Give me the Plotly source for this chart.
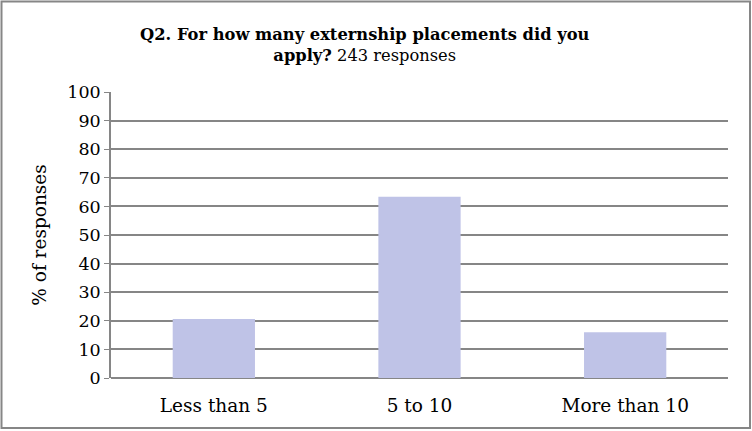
import plotly.graph_objects as go

categories = ["Less than 5", "5 to 10", "More than 10"]
percent = [20.6, 63.4, 16.0]
y_ticks = list(range(0, 101, 10))

W, H = 752, 431
ml, mr, mt, mb = 111, 24, 92, 53
grey = "#868686"
serif = "Georgia, 'DejaVu Serif', serif"

fig = go.Figure()
fig.add_trace(go.Bar(x=categories, y=percent, marker=dict(color="#BFC3E7", line=dict(width=0))))

# border round the whole chart (in paper units)
pw, ph = W - ml - mr, H - mt - mb
fig.add_shape(type="rect", xref="paper", yref="paper",
              x0=(1.5 - ml) / pw, x1=(W - 2 - ml) / pw,
              y0=-(H - 3 - mt - ph) / ph, y1=(H - mb - 1.5) / ph,
              line=dict(color=grey, width=2), layer="above")

fig.update_layout(
    width=W, height=H,
    margin=dict(l=ml, r=mr, t=mt, b=mb),
    paper_bgcolor="white", plot_bgcolor="white",
    bargap=0.6, showlegend=False,
    font=dict(family=serif, color="black", size=17),
    title=dict(text="<b>Q2. For how many externship placements did you<br>apply?</b> 243 responses",
               x=0.485, xanchor="center", y=0.908, yanchor="top",
               font=dict(size=16.3, family=serif)),
)
fig.update_xaxes(showline=False, ticks="", tickfont=dict(size=18.5), ticklabelstandoff=14)
fig.update_yaxes(range=[0, 100], tickvals=y_ticks, showgrid=True, gridcolor=grey, gridwidth=1.5,
                 showline=True, linecolor=grey, linewidth=1.5, ticks="outside", ticklen=5,
                 tickcolor=grey, zeroline=True, zerolinecolor=grey, zerolinewidth=1.5,
                 tickfont=dict(size=17.5),
                 title=dict(text="% of responses", standoff=16, font=dict(size=18.5)))

fig.write_html("out.html", config={"displayModeBar": False},
               post_script="document.body.style.margin='0';")
